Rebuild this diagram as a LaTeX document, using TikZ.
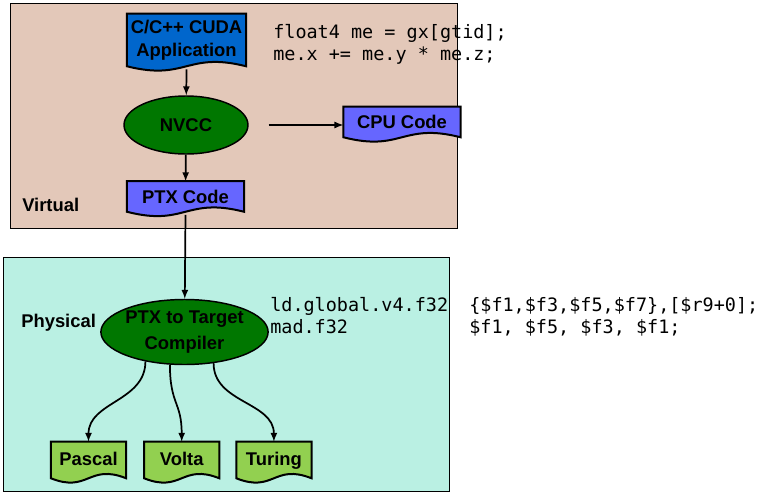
\documentclass[tikz,border=0pt]{standalone}
\usepackage{fontspec}
\setmainfont{Liberation Sans}
\setmonofont{DejaVu Sans Mono}
\usepackage{tikz}
\usetikzlibrary{calc,arrows,backgrounds,positioning,shapes.geometric}
\definecolor{virtualbg}{RGB}{227,200,185}
\definecolor{physicalbg}{RGB}{186,240,227}
\definecolor{appblue}{RGB}{0,102,204}
\definecolor{codeblue}{RGB}{102,102,255}
\definecolor{nvgreen}{RGB}{0,119,0}
\definecolor{leafgreen}{RGB}{146,208,80}
\tikzset{region/.style={draw=black,line width=0.75pt}}

\begin{document}
\begin{tikzpicture}[x=0.75pt,y=-0.75pt,>=latex,font=\fontsize{13.8}{17}\selectfont\bfseries]

\tikzset{docnode/.style={inner sep=0pt,align=center,shape=rectangle},
appnode/.style={docnode,minimum width=89pt,minimum height=39pt},
codenode/.style={docnode,minimum width=87.5pt,minimum height=22.5pt},
leafnode/.style={docnode,minimum width=56pt,minimum height=27pt,text height=10pt,text depth=2pt},
greennode/.style={shape=ellipse,fill=nvgreen,draw=black,line width=1.1pt,inner sep=0pt,align=center},
doctext/.style={font=\fontsize{13.85}{16.5}\selectfont\ttfamily,inner sep=0pt,align=left,anchor=west},
edge/.style={->,line width=1.3pt}}

\useasboundingbox (0,0) rectangle (759,496);

% Regions
\node[anchor=west,inner sep=0pt] (virtual) at (22,205) {Virtual};
\node[anchor=west,inner sep=0pt] (physical) at (21,323) {Physical};

% Virtual nodes
\node[appnode] (app) at (186.5,40) {C/C++ CUDA\\[0.5pt]Application};
\node[greennode,minimum width=93pt,minimum height=43.5pt] (nvcc) at (186,125) {NVCC};
\node[codenode] (cpu) at (402,122) {CPU Code};
\node[codenode] (ptx) at (185.5,196.5) {PTX Code};

% Physical nodes
\node[greennode,minimum width=120.75pt,minimum height=48.75pt] (comp) at (184.5,332) {PTX to Target\\[3pt]Compiler};
\node[leafnode] (pascal) at (88.5,460) {Pascal};
\node[leafnode,right=13.5pt of pascal] (volta) {Volta};
\node[leafnode,right=12.75pt of volta] (turing) {Turing};

% Code samples
\node[doctext] (cudasrc) at (273,44) {float4 me = gx[gtid];\\me.x += me.y * me.z;};
\node[doctext] (ptxops) at (270,316) {ld.global.v4.f32\\mad.f32};
\node[doctext] (ptxargs) at (469,317) {\{\$f1,\$f3,\$f5,\$f7\},[\$r9+0];\\\$f1, \$f5, \$f3, \$f1;};

% Backgrounds and document shapes
\begin{scope}[on background layer]
\draw[region,fill=virtualbg] (10,3) rectangle (457,228);
\draw[region,fill=physicalbg] (3,257) rectangle (449,491);
\foreach \n/\c in {app/appblue,cpu/codeblue,ptx/codeblue,pascal/leafgreen,volta/leafgreen,turing/leafgreen}
  \draw[line width=1.5pt,fill=\c] (\n.north west) -- (\n.north east) -- (\n.south east)
    .. controls ($(\n.south east)!.5!(\n.south west)+(0,-15)$) and ($(\n.south east)!.5!(\n.south west)+(0,15)$) .. (\n.south west) -- cycle;
\end{scope}

% Compile edges
\draw[edge] ($(app.south)+(0,3)$) -- (nvcc);
\draw[edge] (nvcc) -- (ptx);
\draw[edge,shorten <=15pt] (nvcc.east) -- (nvcc.east -| cpu.west);
\draw[edge] ($(ptx.south)+(0,3)$) -- (comp);

% Target edges
\draw[edge] (comp.217) .. controls +(0,40) and +(0,-40) .. (pascal.north);
\draw[edge] (comp.246) .. controls +(0,40) and +(0,-40) .. (volta.north);
\draw[edge] (comp.313) .. controls +(0,40) and +(0,-40) .. (turing.north);

\end{tikzpicture}
\end{document}
